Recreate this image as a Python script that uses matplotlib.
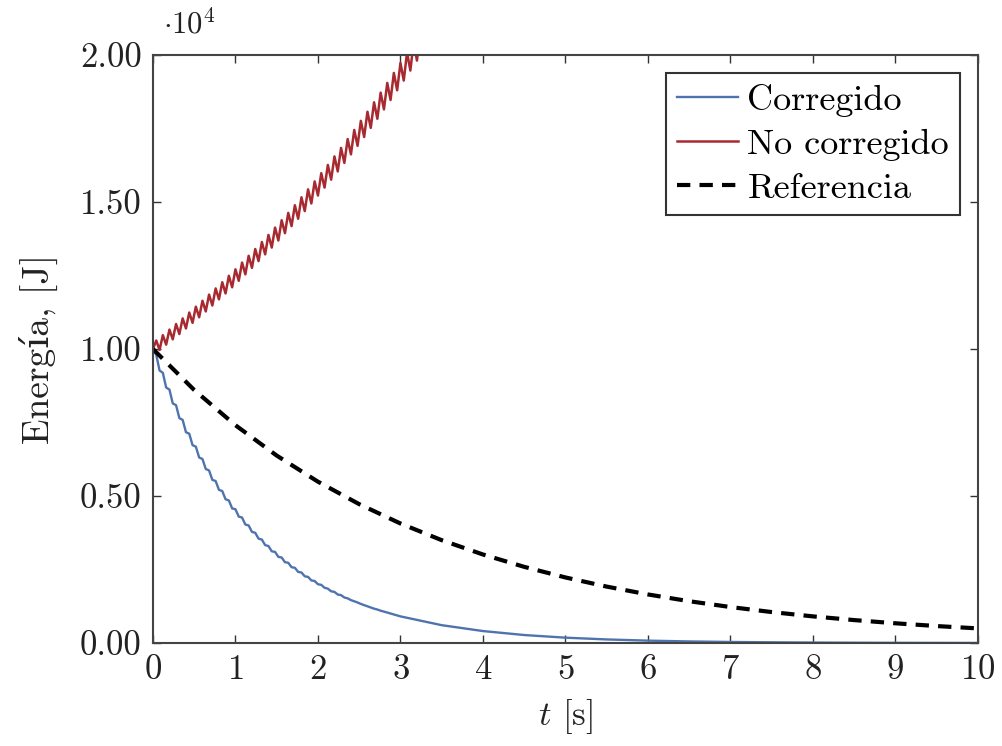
import numpy as np
import matplotlib
matplotlib.use("Agg")
import matplotlib.pyplot as plt

plt.rcParams['font.family'] = ['cmr10', 'DejaVu Serif']
plt.rcParams['mathtext.fontset'] = 'cm'
plt.rcParams['axes.formatter.use_mathtext'] = True

# energy, in J
# "No corregido": zigzag vertices every 0.04 s
t_red = np.round(np.arange(0, 3.29, 0.04), 2)
e_red = [10000, 10290, 9970, 10470, 10150, 10660, 10330, 10850, 10510, 11040,
         10700, 11240, 10890, 11440, 11080, 11640, 11280, 11850, 11480, 12060,
         11690, 12270, 11890, 12490, 12100, 12710, 12320, 12940, 12540, 13170,
         12760, 13400, 12990, 13640, 13220, 13880, 13450, 14130, 13690, 14380,
         13940, 14630, 14180, 14890, 14430, 15160, 14690, 15430, 14950, 15700,
         15220, 15980, 15490, 16260, 15760, 16550, 16040, 16840, 16330, 17140,
         16620, 17450, 16910, 17760, 17210, 18070, 17520, 18390, 17830, 18720,
         18150, 19050, 18470, 19390, 18800, 19730, 19130, 20090, 19470, 20440,
         19810, 20800, 20170]

# "Corregido": zigzag every 0.04 s up to 2.8 s, then smooth tail
t_blue_osc = np.round(np.arange(0, 2.81, 0.04), 2)
e_blue_osc = [10000, 9800, 9270, 9190, 8690, 8620, 8150, 8090, 7650, 7590,
              7170, 7120, 6730, 6680, 6310, 6260, 5920, 5870, 5550, 5510,
              5210, 5170, 4890, 4850, 4580, 4550, 4300, 4270, 4030, 4000,
              3780, 3750, 3550, 3520, 3330, 3300, 3120, 3100, 2930, 2910,
              2750, 2730, 2580, 2560, 2420, 2400, 2270, 2250, 2130, 2110,
              2000, 1980, 1880, 1850, 1760, 1740, 1650, 1630, 1550, 1520,
              1460, 1420, 1380, 1330, 1290, 1250, 1210, 1170, 1140, 1100,
              1070]
t_blue_tail = [3.0, 3.5, 4.0, 4.5, 5.0, 5.5, 6.0, 6.5, 7.0, 7.5, 8.0, 8.5, 9.0, 9.5, 10.0]
e_blue_tail = [907, 608, 408, 273, 183, 123, 82, 55, 37, 25, 17, 11, 7, 5, 3]

# "Referencia"
t_ref = [0, 0.5, 1, 1.5, 2, 2.5, 3, 3.5, 4, 4.5, 5, 5.5, 6, 6.5, 7, 7.5, 8, 8.5, 9, 9.5, 10]
e_ref = [10000, 8607, 7408, 6376, 5488, 4724, 4066, 3499, 3012, 2592, 2231,
         1920, 1653, 1423, 1225, 1054, 907, 781, 672, 578, 498]

t_blue = np.concatenate([t_blue_osc, t_blue_tail])
e_blue = np.concatenate([e_blue_osc, e_blue_tail])

fig = plt.figure(figsize=(10.03, 7.46), dpi=100)
ax = fig.add_axes([0.1525, 0.138, 0.8225, 0.7883])

ax.plot(t_blue, e_blue, color='#4f74ad', lw=1.7, label='Corregido')
ax.plot(t_red, e_red, color='#a82a31', lw=1.8, label='No corregido')
ax.plot(t_ref, e_ref, color='black', lw=3, ls=(0, (3.2, 2.2)), label='Referencia')

ax.set_xlim(0, 10)
ax.set_ylim(0, 20000)
ax.set_xticks(range(0, 11))
yt = [0, 5000, 10000, 15000, 20000]
ax.set_yticks(yt)
ax.set_yticklabels(['%.2f' % (v / 1e4) for v in yt])

ax.tick_params(direction='in', length=6, width=1, top=True, right=True,
               labelsize=25, colors='#333333', labelcolor='#222222', pad=8)
for s in ax.spines.values():
    s.set_color('#444444')
    s.set_linewidth(1.5)

ax.set_xlabel(r'$t$ [s]', fontsize=25, color='#222222', labelpad=8)
ax.set_ylabel('Energía, [J]', fontsize=27, color='#222222', labelpad=16)
fig.text(0.163, 0.955, r'$\cdot 10^4$', fontsize=22, color='#222222')

leg = ax.legend(loc='upper right', fontsize=26, fancybox=False, framealpha=1,
                edgecolor='#333333', handlelength=1.7, handletextpad=0.25,
                borderpad=0.3, labelspacing=0.32, borderaxespad=0.5)
leg.get_frame().set_linewidth(1.5)

fig.savefig('out.png', dpi=100)
